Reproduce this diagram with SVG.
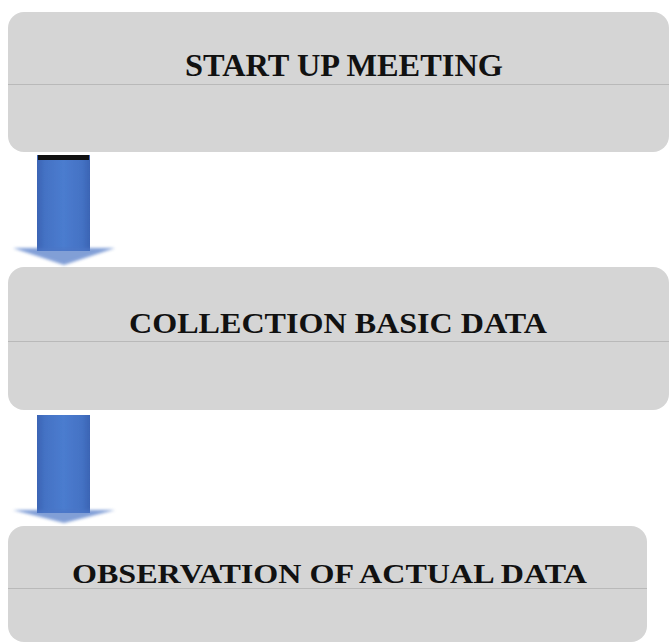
<svg xmlns="http://www.w3.org/2000/svg" width="669" height="644" viewBox="0 0 669 644">
  <style>
    .box { fill: #d5d5d5; }
    .rule { stroke: #b9b9b9; stroke-width: 1; }
    .label { font-family: "Liberation Serif", "Times New Roman", serif; font-weight: bold; fill: #111111; }
    .shaft { fill: url(#shaftShade); }
    .head { fill: #4d77c6; opacity: 0.7; filter: url(#soft); }
  </style>
  <defs>
    <linearGradient id="shaftShade" x1="0" y1="0" x2="1" y2="0">
      <stop offset="0" stop-color="#3b64b4"/>
      <stop offset="0.15" stop-color="#4472c4"/>
      <stop offset="0.5" stop-color="#4b7ccf"/>
      <stop offset="0.85" stop-color="#4472c4"/>
      <stop offset="1" stop-color="#3b64b4"/>
    </linearGradient>
    <filter id="soft" x="-20%" y="-50%" width="140%" height="200%">
      <feGaussianBlur stdDeviation="1.8"/>
    </filter>
    <filter id="edge" x="-20%" y="-5%" width="140%" height="110%">
      <feGaussianBlur stdDeviation="0.7"/>
    </filter>
  </defs>

  <!-- process steps -->
  <g id="step-start-up-meeting">
    <rect class="box" x="8" y="12" width="661" height="140" rx="16"/>
    <line class="rule" x1="8" y1="84.5" x2="669" y2="84.5"/>
    <text class="label" x="185" y="76" font-size="32" textLength="318" lengthAdjust="spacingAndGlyphs">START UP MEETING</text>
  </g>

  <g id="step-collection-basic-data">
    <rect class="box" x="8" y="267" width="661" height="143" rx="16"/>
    <line class="rule" x1="8" y1="341.5" x2="669" y2="341.5"/>
    <text class="label" x="129" y="333" font-size="30" textLength="418" lengthAdjust="spacingAndGlyphs">COLLECTION BASIC DATA</text>
  </g>

  <g id="step-observation-of-actual-data">
    <rect class="box" x="8" y="526" width="639" height="116" rx="16"/>
    <line class="rule" x1="8" y1="588.5" x2="647" y2="588.5"/>
    <text class="label" x="72" y="583" font-size="27" textLength="515" lengthAdjust="spacingAndGlyphs">OBSERVATION OF ACTUAL DATA</text>
  </g>

  <!-- block arrows between steps -->
  <g id="connectors">
    <g id="arrow-1">
      <rect class="shaft" x="37" y="155" width="53" height="96" filter="url(#edge)"/>
      <rect x="38" y="155" width="51" height="5" fill="#111111"/>
      <polygon class="head" points="13,248 115,248 64,265"/>
    </g>
    <g id="arrow-2">
      <rect class="shaft" x="37" y="415" width="53" height="98" filter="url(#edge)"/>
      <polygon class="head" points="13,510 115,510 64,523"/>
    </g>
  </g>
</svg>
